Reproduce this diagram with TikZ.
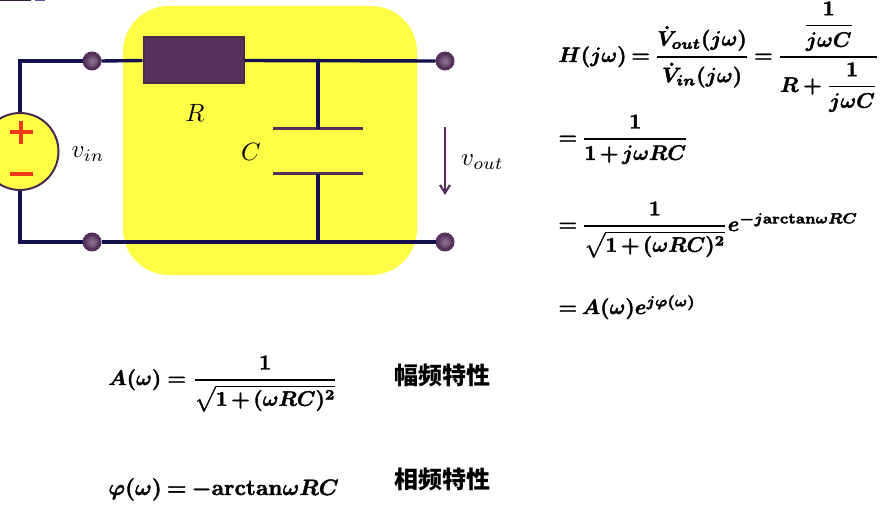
\documentclass[tikz,border=0pt]{standalone}
\usepackage{amsmath}
\usepackage{fontspec}
\newfontfamily\cjk{Noto Sans CJK SC}
\usetikzlibrary{arrows.meta}
\definecolor{wire}{HTML}{14104F}
\definecolor{plum}{HTML}{55305A}
\definecolor{plumdark}{HTML}{472A4E}
\definecolor{hl}{HTML}{FFFC45}
\definecolor{srcred}{HTML}{F03A17}
\newcommand{\eqsetup}{\special{pdf: code 2 Tr 0.18 w}\fontdimen8\textfont3=0.8pt\thickmuskip=3.5mu\medmuskip=2.5mu}
\tikzset{
  wireline/.style={draw=wire,line width=3.4pt},
  platewire/.style={draw=plum,line width=3pt},
  terminal/.style={circle,draw=plum,line width=3pt,minimum size=16pt,inner sep=0pt,inner color=plum!65!white,outer color=plum},
  eq/.style={anchor=base west,inner sep=0pt,text=black,scale=2.1,font=\boldmath},
  lbl/.style={inner sep=0pt,text=black,scale=2.5},
  cn/.style={anchor=west,inner sep=0pt,text=black,font=\fontsize{24}{26}\selectfont\cjk\bfseries},
  sign/.style={draw=srcred,line width=3.6pt}
}
\begin{document}
\begin{tikzpicture}[x=1pt,y=-1pt]
\useasboundingbox (0,0) rectangle (889,508);
\fill[plumdark!70!black] (0,0) rectangle (31,1.5);
\fill[blue!35!gray] (35,0) rectangle (45,1.5);
\fill[hl,rounded corners=46pt] (123,6) rectangle (417,275);
% corners and terminals
\coordinate (tl) at (20,61);
\coordinate (bl) at (20,242);
\coordinate (ct) at (318,61);
\coordinate (cb) at (318,242);
\coordinate (p1l) at (273,129);
\coordinate (p1r) at (363,129);
\coordinate (p2l) at (273,174);
\coordinate (p2r) at (363,174);
\coordinate (p1m) at (318,129);
\coordinate (p2m) at (318,174);
\coordinate (plusa) at (10,132);
\coordinate (plusb) at (33,132);
\coordinate (plusc) at (21,121);
\coordinate (plusd) at (21,144);
\coordinate (minusa) at (10,174);
\coordinate (minusb) at (33,174);
\coordinate (va) at (445,127);
\coordinate (vb) at (445,195);
\node[terminal] (t1) at (92,61) {};
\node[terminal] (t2) at (92,242) {};
\node[terminal] (t3) at (445,61) {};
\node[terminal] (t4) at (445,242) {};
\node[circle,draw=plumdark,line width=2pt,fill=hl,minimum size=77pt,inner sep=0pt] (src) at (20,151.5) {};
\node[rectangle,draw=plumdark,line width=2pt,fill=plum,minimum width=100pt,minimum height=46pt,inner sep=0pt] (res) at (193.5,60.5) {};
% wires
\draw[wireline] (src.north) -- (tl) -- (t1.west);
\draw[wireline] (t1.east) -- (res.west);
\draw[wireline] (res.east) -- (t3.west);
\draw[wireline] (src.south) -- (bl) -- (t2.west);
\draw[wireline] (t2.east) -- (t4.west);
\draw[platewire] (p1l) -- (p1r);
\draw[platewire] (p2l) -- (p2r);
\draw[wireline] (ct) -- (p1m);
\draw[wireline] (p2m) -- (cb);
\draw[sign] (plusa) -- (plusb);
\draw[sign] (plusc) -- (plusd);
\draw[sign] (minusa) -- (minusb);
\draw[plum,line width=2.2pt,-{Straight Barb[length=8pt,width=10pt]}] (va) -- (vb);
% labels
\node[lbl] (lr) at (195,113) {$R$};
\node[lbl] (lc) at (251,152) {$C$};
\node[lbl] (lvin) at (88,154) {$v_{in}$};
\node[lbl] (lvout) at (482.5,162) {$v_{out}$};
% equations
\node[eq] (e1) at (558,62) {$\eqsetup H(j\omega)=\dfrac{\dot V_{out}(j\omega)}{\dot V_{in}(j\omega)}=\dfrac{\dfrac{1}{j\omega C}}{R\mkern1mu+\mkern1mu\dfrac{1}{j\omega C}}$};
\node[eq] (e2) at (558,144) {$\eqsetup =\dfrac{1}{1+j\omega RC}$};
\node[eq] (e3) at (558,231) {$\eqsetup =\dfrac{1}{\sqrt{1+(\omega RC)^2}}e^{-j\mathbf{arctan}\omega RC}$};
\node[eq] (e4) at (558,314) {$\eqsetup =A(\omega)e^{j\varphi(\omega)}$};
\node[eq] (e5) at (108,385) {$\eqsetup\thickmuskip=4.5mu A(\omega)=\dfrac{1}{\sqrt{1+(\omega RC)^2}}$};
\node[eq,scale=1.06] (e6) at (108,495) {$\eqsetup \varphi(\omega)=-\mathbf{arctan}\omega RC$};
\node[cn] (c1) at (394,375) {幅频特性};
\node[cn] (c2) at (394,479) {相频特性};
\end{tikzpicture}
\end{document}
